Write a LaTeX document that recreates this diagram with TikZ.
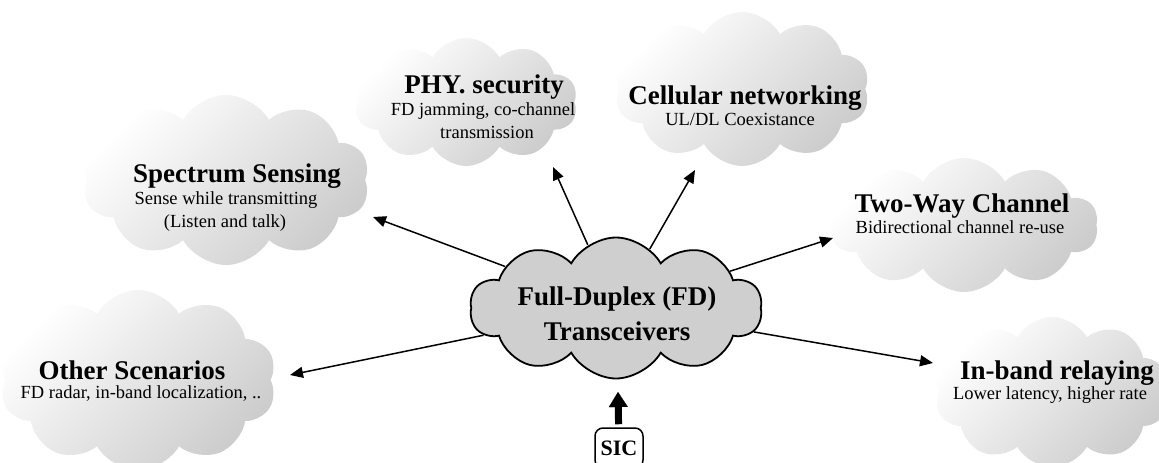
\documentclass[tikz,border=0pt]{standalone}
\usepackage{fontspec}
\setmainfont{Liberation Serif}
\usetikzlibrary{shapes.symbols,arrows.meta}
\definecolor{fdgray}{gray}{0.81}
\begin{document}
\begin{tikzpicture}[x=1pt,y=-1pt,
  bgcloud/.style={cloud, cloud puffs=10, cloud puff arc=120, inner sep=0pt,
    top color=white, bottom color=gray!40, shading angle=45, draw=none},
  ttl/.style={font=\fontsize{27}{30}\selectfont\bfseries, inner sep=0pt, anchor=base},
  sub/.style={font=\fontsize{18.5}{21}\selectfont, inner sep=0pt, anchor=base},
  link/.style={line width=1.5pt, -{Triangle[length=13pt,width=11pt]}},
  sicarrow/.style={line width=7pt, -{Triangle[length=15pt,width=19pt,line width=0.1pt]}},
]
\useasboundingbox (0,0) rectangle (1159,463);
\clip (0,0) rectangle (1159,463);

% background clouds
\node[bgcloud, aspect=1.7, minimum width=287pt, minimum height=170pt] (ssc) at (226,180) {};
\node[bgcloud, aspect=1.75, minimum width=223pt, minimum height=128pt] (phc) at (466,102) {};
\node[bgcloud, aspect=1.65, minimum width=255pt, minimum height=154pt] (cnc) at (742,89) {};
\node[bgcloud, aspect=2, minimum width=268pt, minimum height=134pt] (twc) at (964,225) {};
\node[bgcloud, aspect=1.55, minimum width=277pt, minimum height=180pt] (osc) at (138,380) {};
\node[bgcloud, aspect=1.55, minimum width=235pt, minimum height=150pt] (ibc) at (1052,392) {};

% texts
\node[ttl] (sst) at (237,182) {Spectrum Sensing};
\node[sub] (ss1) at (226,204) {Sense while transmitting};
\node[sub] (ss2) at (225,227) {(Listen and talk)};

\node[ttl] (pht) at (484,93) {PHY. security};
\node[sub] (ph1) at (483,115) {FD jamming, co-channel};
\node[sub] (ph2) at (487,138) {transmission};

\node[ttl] (cnt) at (745,104) {Cellular networking};
\node[sub] (cn1) at (740,125) {UL/DL Coexistance};

\node[ttl] (twt) at (962,212) {Two-Way Channel};
\node[sub] (tw1) at (960,233) {Bidirectional channel re-use};

\node[ttl] (ost) at (132,379) {Other Scenarios};
\node[sub] (os1) at (141,398) {FD radar, in-band localization, ..};

\node[ttl] (ibt) at (1057,379) {In-band relaying};
\node[sub] (ib1) at (1050,399) {Lower latency, higher rate};

% central cloud
\node[cloud, cloud puffs=10, cloud puff arc=120, aspect=2.07, draw, line width=1.8pt,
  fill=fdgray, minimum width=292pt, minimum height=141pt, inner sep=0pt] (fd) at (616,308) {};
\node[ttl] (fd1) at (617,305) {Full-Duplex (FD)};
\node[ttl] (fd2) at (617,340) {Transceivers};

% SIC
\node[draw, line width=1.5pt, rounded corners=8pt, minimum width=48pt, minimum height=40pt,
  font=\fontsize{22}{24}\selectfont\bfseries, inner sep=0pt] (sic) at (619,448) {SIC};

% arrow end points
\coordinate (t1) at (373,217);
\coordinate (t2) at (290,375);
\coordinate (t3) at (553,167);
\coordinate (t4) at (695,170);
\coordinate (t5) at (833,238);
\coordinate (t6) at (933,363);
\coordinate (sictip) at (618,392);

\draw[link] (fd) -- (t1);
\draw[link] (fd) -- (t2);
\draw[link] (fd) -- (t3);
\draw[link] (fd) -- (t4);
\draw[link] (fd) -- (t5);
\draw[link] (fd) -- (t6);
\draw[sicarrow, shorten <=3pt] (sic) -- (sictip);
\end{tikzpicture}
\end{document}
